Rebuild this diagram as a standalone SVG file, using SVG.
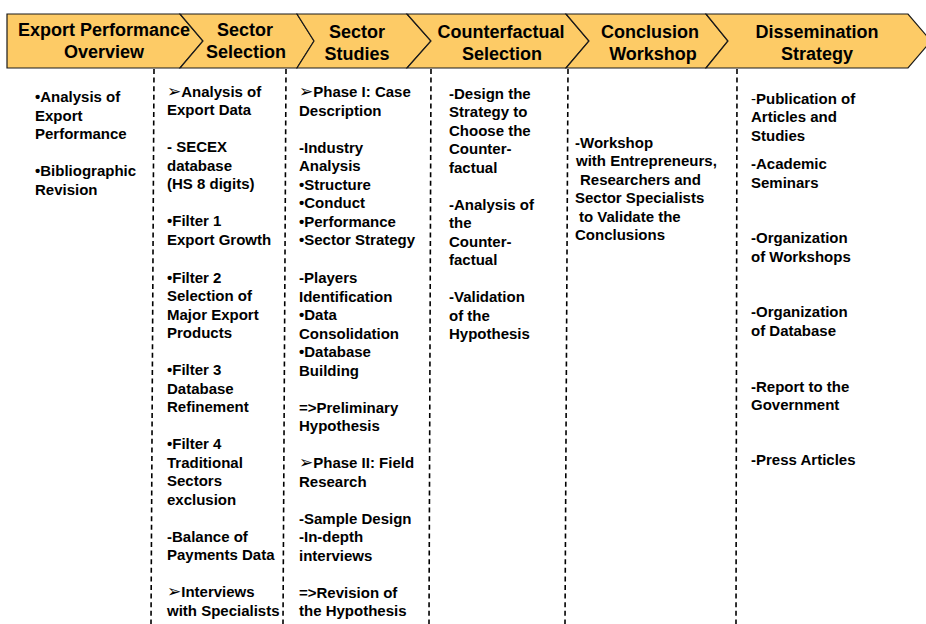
<svg xmlns="http://www.w3.org/2000/svg" width="926" height="624" viewBox="0 0 926 624">
  <style>
    .stage { fill: #FDCB66; stroke: #1a1a1a; stroke-width: 1.2; stroke-linejoin: miter; }
    .head { font-family: "Liberation Sans", Arial, sans-serif; font-weight: bold; font-size: 18px; fill: #000; text-anchor: middle; }
    .body { font-family: "Liberation Sans", Arial, "DejaVu Sans", sans-serif; font-weight: bold; font-size: 15px; fill: #000; }
    .arrow { font-family: "DejaVu Sans", sans-serif; font-weight: normal; font-size: 17px; }
    .thin { font-weight: normal; }
    .divider { stroke: #000; stroke-width: 1.6; stroke-dasharray: 5 3.6; fill: none; }
  </style>
  <rect width="926" height="624" fill="#fff"/>

  <!-- dashed separators between the columns -->
  <g id="connectors">
    <line class="divider" x1="154" y1="69" x2="151" y2="624"/>
    <line class="divider" x1="286" y1="69" x2="283" y2="624"/>
    <line class="divider" x1="431" y1="69" x2="429" y2="624"/>
    <line class="divider" x1="568" y1="69" x2="565" y2="624"/>
    <line class="divider" x1="737" y1="69" x2="736" y2="624"/>
  </g>

  <g id="stage-export-performance">
    <polygon class="stage" points="7,14 180,14 203,41 180,68 7,68"/>
    <text class="head"><tspan x="104" y="36">Export Performance</tspan><tspan x="104" y="57.5">Overview</tspan></text>
    <text class="body">
      <tspan x="35" y="102">•Analysis of</tspan>
      <tspan x="35" y="120.5">Export</tspan>
      <tspan x="35" y="139">Performance</tspan>
      <tspan x="35" y="176">•Bibliographic</tspan>
      <tspan x="35" y="194.5">Revision</tspan>
    </text>
  </g>

  <g id="stage-sector-selection">
    <polygon class="stage" points="180,14 297,14 314,41 297,68 180,68 203,41"/>
    <text class="head"><tspan x="245" y="36">Sector</tspan><tspan x="246" y="57.5">Selection</tspan></text>
    <text class="body">
      <tspan x="167" y="96.7"><tspan class="arrow">➢</tspan>Analysis of</tspan>
      <tspan x="167" y="115.2">Export Data</tspan>
      <tspan x="167" y="152.2">- SECEX</tspan>
      <tspan x="167" y="170.7">database</tspan>
      <tspan x="167" y="189.2">(HS 8 digits)</tspan>
      <tspan x="167" y="226.2">•Filter 1</tspan>
      <tspan x="167" y="244.7">Export Growth</tspan>
      <tspan x="167" y="282.5">•Filter 2</tspan>
      <tspan x="167" y="301">Selection of</tspan>
      <tspan x="167" y="319.5">Major Export</tspan>
      <tspan x="167" y="338">Products</tspan>
      <tspan x="167" y="375">•Filter 3</tspan>
      <tspan x="167" y="393.5">Database</tspan>
      <tspan x="167" y="412">Refinement</tspan>
      <tspan x="167" y="449">•Filter 4</tspan>
      <tspan x="167" y="467.5">Traditional</tspan>
      <tspan x="167" y="486">Sectors</tspan>
      <tspan x="167" y="504.5">exclusion</tspan>
      <tspan x="167" y="541.5">-Balance of</tspan>
      <tspan x="167" y="560">Payments Data</tspan>
      <tspan x="167" y="597"><tspan class="arrow">➢</tspan>Interviews</tspan>
      <tspan x="167" y="615.5">with Specialists</tspan>
    </text>
  </g>

  <g id="stage-sector-studies">
    <polygon class="stage" points="297,14 407,14 431,41 407,68 297,68 314,41"/>
    <text class="head"><tspan x="357" y="38">Sector</tspan><tspan x="357" y="60">Studies</tspan></text>
    <text class="body">
      <tspan x="299" y="97.3"><tspan class="arrow">➢</tspan>Phase I: Case</tspan>
      <tspan x="299" y="115.8">Description</tspan>
      <tspan x="299" y="152.8">-Industry</tspan>
      <tspan x="299" y="171.3">Analysis</tspan>
      <tspan x="299" y="189.8">•Structure</tspan>
      <tspan x="299" y="208.3">•Conduct</tspan>
      <tspan x="299" y="226.8">•Performance</tspan>
      <tspan x="299" y="245.3">•Sector Strategy</tspan>
      <tspan x="299" y="283">-Players</tspan>
      <tspan x="299" y="301.5">Identification</tspan>
      <tspan x="299" y="320">•Data</tspan>
      <tspan x="299" y="338.5">Consolidation</tspan>
      <tspan x="299" y="357">•Database</tspan>
      <tspan x="299" y="375.5">Building</tspan>
      <tspan x="299" y="412.5">=&gt;Preliminary</tspan>
      <tspan x="299" y="431">Hypothesis</tspan>
      <tspan x="299" y="468"><tspan class="arrow">➢</tspan>Phase II: Field</tspan>
      <tspan x="299" y="486.5">Research</tspan>
      <tspan x="299" y="523.5">-Sample Design</tspan>
      <tspan x="299" y="542">-In-depth</tspan>
      <tspan x="299" y="560.5">interviews</tspan>
      <tspan x="299" y="597.5">=&gt;Revision of</tspan>
      <tspan x="299" y="616">the Hypothesis</tspan>
    </text>
  </g>

  <g id="stage-counterfactual">
    <polygon class="stage" points="407,14 566,14 589,41 566,68 407,68 431,41"/>
    <text class="head"><tspan x="501" y="37.7">Counterfactual</tspan><tspan x="502" y="59.5">Selection</tspan></text>
    <text class="body">
      <tspan x="449" y="98.8">-Design the</tspan>
      <tspan x="449" y="117.3">Strategy to</tspan>
      <tspan x="449" y="135.8">Choose the</tspan>
      <tspan x="449" y="154.3">Counter-</tspan>
      <tspan x="449" y="172.8">factual</tspan>
      <tspan x="449" y="209.8">-Analysis of</tspan>
      <tspan x="449" y="228.3">the</tspan>
      <tspan x="449" y="246.8">Counter-</tspan>
      <tspan x="449" y="265.3">factual</tspan>
      <tspan x="449" y="302.3">-Validation</tspan>
      <tspan x="449" y="320.8">of the</tspan>
      <tspan x="449" y="339.3">Hypothesis</tspan>
    </text>
  </g>

  <g id="stage-conclusion-workshop">
    <polygon class="stage" points="566,14 706,14 728,41 706,68 566,68 589,41"/>
    <text class="head"><tspan x="650" y="37.7">Conclusion</tspan><tspan x="653" y="60">Workshop</tspan></text>
    <text class="body">
      <tspan x="575" y="147.5">-Workshop</tspan>
      <tspan x="576" y="166">with Entrepreneurs,</tspan>
      <tspan x="580" y="184.5">Researchers and</tspan>
      <tspan x="575" y="203">Sector Specialists</tspan>
      <tspan x="579" y="221.5">to Validate the</tspan>
      <tspan x="575" y="240">Conclusions</tspan>
    </text>
  </g>

  <g id="stage-dissemination">
    <polygon class="stage" points="706,14 908,14 931,41 908,68 706,68 728,41"/>
    <text class="head"><tspan x="817" y="37.7">Dissemination</tspan><tspan x="817" y="60">Strategy</tspan></text>
    <text class="body">
      <tspan x="751" y="103.5"><tspan class="thin">-</tspan>Publication of</tspan>
      <tspan x="751" y="122">Articles and</tspan>
      <tspan x="751" y="140.5">Studies</tspan>
      <tspan x="751" y="169">-Academic</tspan>
      <tspan x="751" y="187.5">Seminars</tspan>
      <tspan x="751" y="243">-Organization</tspan>
      <tspan x="751" y="261.5">of Workshops</tspan>
      <tspan x="751" y="317">-Organization</tspan>
      <tspan x="751" y="335.5">of Database</tspan>
      <tspan x="751" y="391.5">-Report to the</tspan>
      <tspan x="751" y="410">Government</tspan>
      <tspan x="751" y="465">-Press Articles</tspan>
    </text>
  </g>
</svg>
